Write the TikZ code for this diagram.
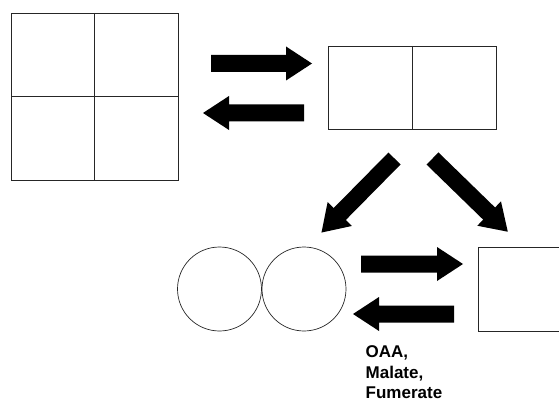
\documentclass[tikz,border=0pt]{standalone}
\usepackage{fontspec}
\setmainfont{Liberation Sans}
\newcommand\blockarrow[4]{%
  \begin{scope}[shift={(#1,#2)}, rotate=#3]
    \fill[black] (0,-8.5) -- ({#4-26},-8.5) -- ({#4-26},-17) -- (#4,0) -- ({#4-26},17) -- ({#4-26},8.5) -- (0,8.5) -- cycle;
  \end{scope}}
\begin{document}
\begin{tikzpicture}[x=1pt,y=-1pt,
  boxline/.style={draw=black!85, line width=0.8pt, inner sep=0pt, outer sep=0pt},
  ring/.style={circle, draw=black!85, line width=0.7pt, inner sep=0pt, minimum size=84pt},
  label/.style={font=\bfseries\fontsize{17}{20.5}\selectfont, align=left, inner sep=0pt, anchor=north west}]
\useasboundingbox (0,0) rectangle (559,401);
\clip (0,0) rectangle (559,401);
% big square
\node[boxline, minimum width=167pt, minimum height=167pt] (sq) at (94.5,96.5) {};
\draw[black!85, line width=0.8pt] (sq.north) -- (sq.south);
\draw[black!85, line width=0.8pt] (sq.west) -- (sq.east);
% rectangle
\node[boxline, minimum width=168pt, minimum height=83pt] (rect) at (412,87.5) {};
\draw[black!85, line width=0.8pt] (rect.north) -- (rect.south);
% circles
\node[ring] (c1) at (219.5,289) {};
\node[ring] (c2) at (304,289) {};
% right box
\node[boxline, minimum width=100pt, minimum height=84pt] (rb) at (528,289) {};
% arrows
\blockarrow{211}{63.5}{0}{101}
\blockarrow{304}{113}{180}{101}
\blockarrow{361}{264}{0}{102}
\blockarrow{454}{314}{180}{101}
\blockarrow{394.5}{158.5}{225.4}{104}
\blockarrow{432.5}{158.5}{-44.2}{105}
% label
\node[label] (txt) at (365.5,345.5) {OAA,\\Malate,\\Fumerate};
\end{tikzpicture}
\end{document}
